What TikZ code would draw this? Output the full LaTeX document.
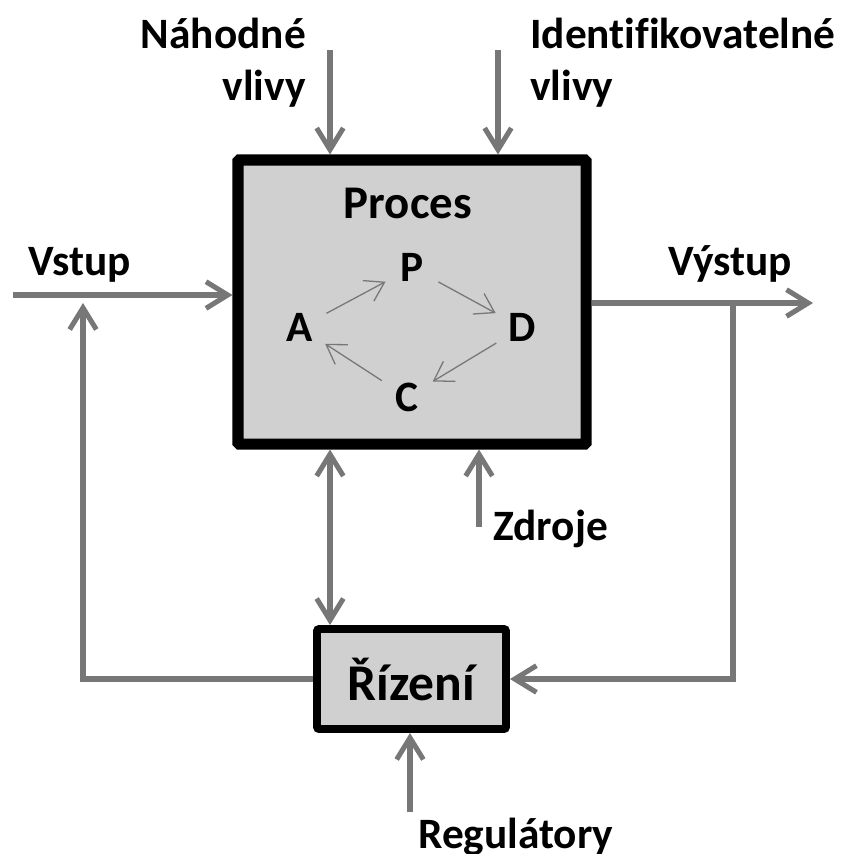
\documentclass[tikz,border=0pt]{standalone}
\usepackage{fontspec}
\setmainfont{Carlito}[Ligatures=NoCommon]
\usetikzlibrary{arrows.meta}
\definecolor{linka}{HTML}{777777}
\definecolor{vypln}{HTML}{D0D0D0}

\begin{document}
\begin{tikzpicture}[x=0.03cm,y=-0.03cm,font=\fontsize{37}{44}\selectfont\bfseries,
	>={Straight Barb[length=0.65cm,width=0.8cm]},
	tok/.style={draw=linka,line width=4.3pt},
	cyk/.style={draw=linka,line width=1.1pt,-{Straight Barb[length=0.55cm,width=0.7cm]}},
	pismeno/.style={circle,minimum size=1.8cm,inner sep=0pt,outer sep=0pt}]
		\useasboundingbox (0,0) rectangle (854,854);

		% bloky
		\node[draw,line width=9.4pt,fill=vypln,minimum width=10.44cm,minimum height=8.52cm,rounded corners=1pt] (proces) at (412,302) {};
		\node[draw,line width=6.8pt,fill=vypln,minimum width=5.67cm,minimum height=3cm,rounded corners=2pt,font=\fontsize{44}{50}\selectfont\bfseries] (rizeni) at (411.5,679) {Řízení};
		\node[anchor=base,font=\fontsize{40}{46}\selectfont\bfseries] (proceslbl) at (408,218) {Proces};

		% PDCA
		\foreach \n/\x/\y in {P/412/267.5,A/300/327.5,D/522/327.5,C/407/397} { \node[pismeno] (\n) at (\x,\y) {\n};}
		\foreach \a/\b in {A/P,P/D,D/C,C/A} { \draw[cyk] (\a) -- (\b);}

		% popisky
		\node[anchor=base] (vstup) at (80,275) {Vstup};
		\node[anchor=base] (vystup) at (730,275) {Výstup};
		\node[anchor=north east,align=right,inner sep=0pt] (nahodne) at (306,18) {Náhodné\\vlivy};
		\node[anchor=north west,align=left,inner sep=0pt] (identif) at (530,18) {Identifikovatelné\\vlivy};
		\node[anchor=base west,inner sep=0pt] (zdroje) at (493,540) {Zdroje};
		\node[anchor=base west,inner sep=0pt] (regul) at (418,848) {Regulátory};

		% toky
		\coordinate (nahod) at (330,50);
		\coordinate (ident) at (498,50);
		\coordinate (vin) at (13,295);
		\coordinate (vout) at (813,303);
		\coordinate (odb) at (733,303);
		\coordinate (zpet) at (83,303);
		\coordinate (zdr) at (479,527);
		\coordinate (reg) at (410,812);
		\coordinate (spoj) at (330,0);
		\draw[tok,->] (nahod) -- (nahod |- proces.north);
		\draw[tok,->] (ident) -- (ident |- proces.north);
		\draw[tok,->] (vin) -- (vin -| proces.west);
		\draw[tok,->] (vout -| proces.east) -- (vout);
		\draw[tok,->] (odb) |- (rizeni.east);
		\draw[tok,->] (rizeni.west) -| (zpet);
		\draw[tok,->] (zdr) -- (zdr |- proces.south);
		\draw[tok,->] (reg) -- (reg |- rizeni.south);
		\draw[tok,<->] (spoj |- proces.south) -- (spoj |- rizeni.north);
\end{tikzpicture}
\end{document}
